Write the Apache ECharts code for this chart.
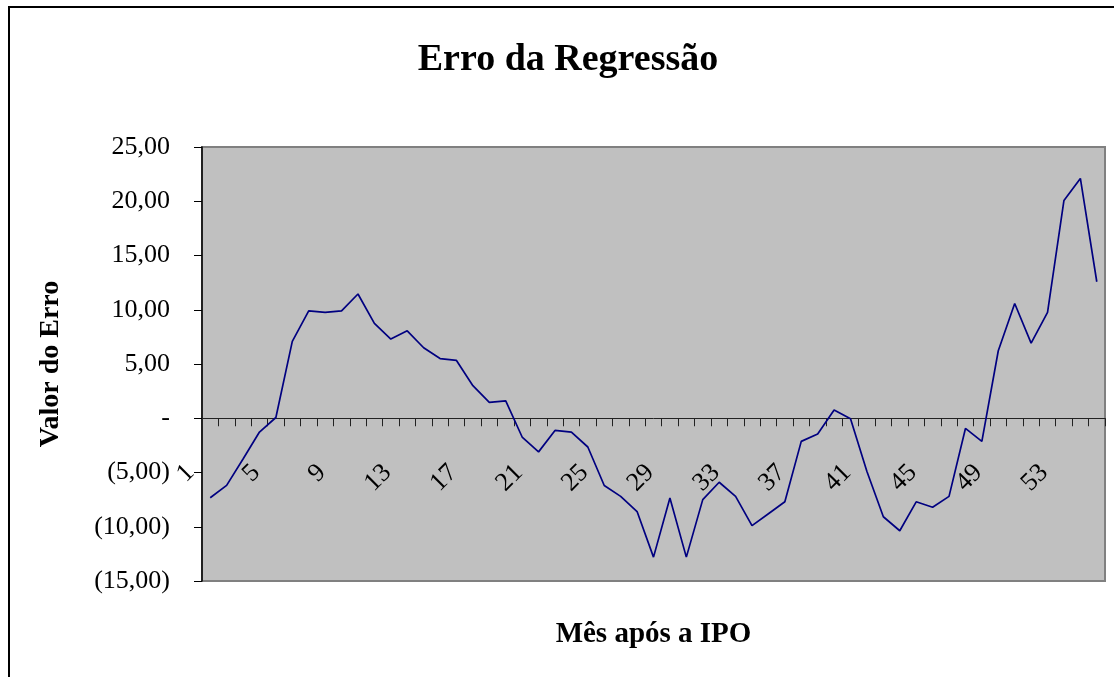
<!DOCTYPE html>
<html>
<head>
<meta charset="utf-8">
<script src="https://cdn.jsdelivr.net/npm/echarts@6/dist/echarts.min.js"></script>
<style>
  html, body { margin: 0; padding: 0; background: #fff; }
  #chart { width: 1114px; height: 677px; }
</style>
</head>
<body>
<div id="chart"></div>
<script>
// meses após a IPO (1..55)
const meses = [];
for (let i = 1; i <= 55; i++) meses.push(String(i));

// erro da regressão
const erros = [
  -7.33, -6.19, -3.75, -1.27, 0.07, 7.08, 9.9, 9.75, 9.9, 11.45,
  8.74, 7.3, 8.06, 6.5, 5.5, 5.33, 3.0, 1.46, 1.6, -1.73,
  -3.1, -1.12, -1.27, -2.65, -6.2, -7.2, -8.6, -12.8, -7.35, -12.8,
  -7.5, -5.9, -7.2, -9.9, -8.8, -7.7, -2.13, -1.46, 0.76, -0.05,
  -4.9, -9.08, -10.37, -7.7, -8.2, -7.2, -0.94, -2.13, 6.22, 10.58,
  6.93, 9.75, 20.07, 22.1, 12.58
];

const fonte = "'Liberation Serif', 'Times New Roman', serif";

// formato contábil: 0 -> "-", negativo entre parênteses
function formatoValor(v) {
  if (v === 0) return '-';
  const s = Math.abs(v).toFixed(2).replace('.', ',');
  return v < 0 ? '(' + s + ')' : s;
}

const chart = echarts.init(document.getElementById('chart'));
const option = {
  backgroundColor: '#ffffff',
  animation: false,
  title: {
    text: 'Erro da Regressão',
    left: 563,
    top: 36,
    textAlign: 'center',
    textStyle: { fontFamily: fonte, fontWeight: 'bold', fontSize: 38, color: '#000' }
  },
  graphic: [
    {
      type: 'rect',
      shape: { x: 9, y: 7, width: 1130, height: 700 },
      style: { fill: 'none', stroke: '#000', lineWidth: 2 },
      silent: true
    }
  ],
  grid: {
    left: 202,
    right: 9,
    top: 147,
    bottom: 96,
    containLabel: false,
    outerBoundsMode: 'none',
    show: true,
    backgroundColor: '#c0c0c0',
    borderColor: '#808080',
    borderWidth: 2
  },
  xAxis: {
    type: 'category',
    data: meses,
    boundaryGap: true,
    name: 'Mês após a IPO',
    nameLocation: 'middle',
    nameGap: 39,
    nameTextStyle: { fontFamily: fonte, fontWeight: 'bold', fontSize: 29, color: '#000' },
    axisLine: { onZero: true, lineStyle: { color: '#222', width: 1 } },
    axisTick: { show: true, interval: 0, length: 8, lineStyle: { color: '#222' } },
    axisLabel: {
      interval: 3,
      rotate: 45,
      // os rótulos ficam presos à borda inferior; puxa-os para junto da linha do zero
      margin: -132,
      padding: [0, 28, 0, 0],
      fontFamily: fonte,
      fontSize: 26,
      color: '#000'
    },
    splitLine: { show: false }
  },
  yAxis: {
    type: 'value',
    min: -15,
    max: 25,
    interval: 5,
    name: 'Valor do Erro',
    nameLocation: 'middle',
    nameGap: 137,
    nameTextStyle: { fontFamily: fonte, fontWeight: 'bold', fontSize: 28, color: '#000' },
    axisLine: { show: true, lineStyle: { color: '#000', width: 1.5 } },
    axisTick: { show: true, length: 8, lineStyle: { color: '#000' } },
    axisLabel: {
      margin: 32,
      fontFamily: fonte,
      fontSize: 26,
      color: '#000',
      formatter: formatoValor
    },
    splitLine: { show: false }
  },
  series: [
    {
      type: 'line',
      data: erros,
      symbol: 'none',
      lineStyle: { color: '#000080', width: 1.7 },
      z: 1
    }
  ]
};
chart.setOption(option);
</script>
</body>
</html>
